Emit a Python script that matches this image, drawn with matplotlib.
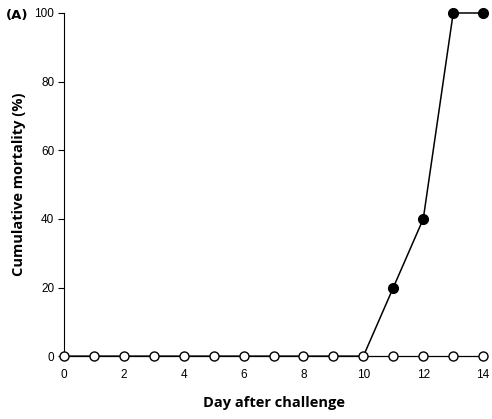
import numpy as np
import matplotlib.pyplot as plt

# datos
dias = np.arange(0, 15)
infectados = [0, 0, 0, 0, 0, 0, 0, 0, 0, 0, 0, 20, 40, 100, 100]
control = [0] * 15
xticks = [0, 2, 4, 6, 8, 10, 12, 14]
yticks = [0, 20, 40, 60, 80, 100]

fig = plt.figure(figsize=(4.92, 4.19), dpi=100)
ax = fig.add_axes([0.130, 0.150, 0.852, 0.819])

ax.plot(dias, infectados, color='black', lw=1.1, marker='o', ms=7,
        mfc='black', mec='black', markevery=[11, 12, 13, 14],
        clip_on=False, zorder=3)
ax.plot(dias, control, color='black', lw=0.9, marker='o', ms=6.5,
        mfc='white', mec='black', mew=1.0, clip_on=False, zorder=4)

ax.set_xlim(0, 14)
ax.set_ylim(0, 100)
ax.set_xticks(xticks)
ax.set_yticks(yticks)
ax.tick_params(axis='x', length=0, pad=9, labelsize=8.5)
ax.tick_params(axis='y', length=4, width=0.8, direction='out', pad=3, labelsize=8.5)
for lab in ax.get_xticklabels() + ax.get_yticklabels():
    lab.set_family('Liberation Sans')

for s in ['top', 'right', 'bottom']:
    ax.spines[s].set_visible(False)
ax.spines['left'].set_linewidth(0.8)

ax.set_xlabel('Day after challenge', fontsize=10.5, fontweight='bold',
              family='Open Sans', labelpad=11)
ax.set_ylabel('Cumulative mortality (%)', fontsize=10.5, fontweight='bold',
              family='Open Sans', labelpad=6)
fig.text(0.012, 0.962, '(A)', fontsize=9.5, fontweight='bold', va='center')

plt.savefig('out.png', dpi=100)
